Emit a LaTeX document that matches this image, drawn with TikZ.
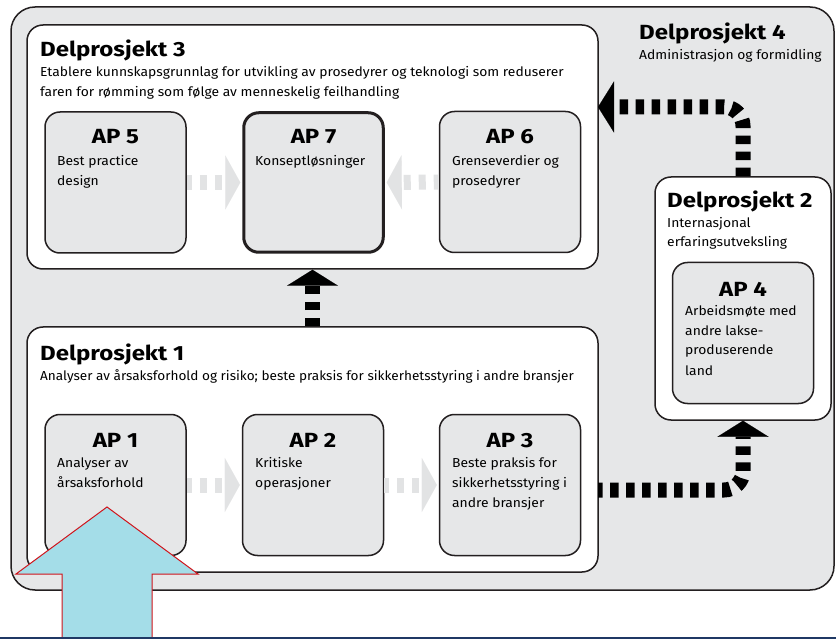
\documentclass[tikz,border=0pt]{standalone}
\usepackage{fontspec}
\setmainfont{Fira Sans}
\newfontfamily\bodyfam[FakeStretch=1.067]{Fira Sans}
\newfontfamily\bodyfamn[FakeStretch=1.045]{Fira Sans}
\newfontfamily\headfam[FakeStretch=1.17]{Fira Sans}
\usetikzlibrary{arrows.meta}
\definecolor{bggrey}{HTML}{E6E7E8}
\definecolor{edge}{HTML}{231F20}
\definecolor{faintc}{HTML}{E2E3E4}
\definecolor{bluefill}{HTML}{A4DDE8}
\definecolor{redline}{HTML}{D0141B}
\definecolor{navy}{HTML}{1F3864}
\newcommand{\hfnt}{\headfam\bfseries\fontsize{20.5}{24}\selectfont}
\newcommand{\bfnt}{\bodyfam\fontsize{13}{16}\selectfont}
\newcommand{\bfntn}{\bodyfamn\fontsize{13}{16}\selectfont}
\tikzset{
  outerbox/.style={draw=edge, line width=1.5pt, fill=bggrey, rounded corners=24pt, rectangle, inner sep=0},
  dpbox/.style={draw=edge, line width=1.5pt, fill=white, rounded corners=16pt, rectangle, inner sep=0},
  apbox/.style={draw=edge, line width=1.5pt, fill=bggrey, rounded corners=15pt, rectangle, inner sep=0, minimum width=141pt, minimum height=141pt},
  hd/.style={anchor=base west, inner sep=0, font=\hfnt},
  aptitle/.style={anchor=base, inner sep=0, font=\hfnt},
  tx/.style={anchor=base west, inner sep=0, font=\bfnt},
  faintarr/.style={draw=faintc, line width=15pt, dash pattern=on 7pt off 8pt,
    -{Triangle[width=54pt,length=15pt,line width=0.1pt]}, shorten >=2pt},
  blackarr/.style={draw=black, line width=15pt, dash pattern=on 8.5pt off 7.5pt,
    -{Triangle[width=51pt,length=16pt,line width=0.1pt]}, rounded corners=19pt}
}
\begin{document}
\begin{tikzpicture}[x=1pt,y=-1pt]
\useasboundingbox (0,0) rectangle (836,639);
% outer grey area (Delprosjekt 4)
\node[outerbox, minimum width=823pt, minimum height=583pt] (d4) at (422.5,298.5) {};
% Delprosjekt boxes
\node[dpbox, minimum width=571pt, minimum height=244pt] (d3) at (312.5,147) {};
\node[dpbox, minimum width=571pt, minimum height=245pt] (d1) at (312.5,449.5) {};
\node[dpbox, minimum width=176pt, minimum height=243pt] (d2) at (743,298.5) {};
% AP boxes
\node[apbox] (ap5) at (115.5,182.5) {};
\node[apbox, line width=3pt, minimum width=139.5pt, minimum height=139.5pt] (ap7) at (313.5,182.5) {};
\node[apbox] (ap6) at (510,182) {};
\node[apbox] (ap1) at (115.5,485) {};
\node[apbox] (ap2) at (313,485) {};
\node[apbox] (ap3) at (510,485) {};
\node[apbox] (ap4) at (743,333) {};
% faint arrows
\draw[faintarr, dash phase=2pt] (ap5.east) -- (ap7.west);
\draw[faintarr, dash phase=2pt] (ap6.west) -- (ap7.east);
\draw[faintarr, dash phase=2pt] (ap1.east) -- (ap2.west);
\draw[faintarr, dash phase=2pt] (ap2.east) -- (ap3.west);
% black dashed arrows
\coordinate (a2s) at (598,490);
\coordinate (a3e) at (598,107);
\draw[blackarr] (d1.north) -- (d3.south);
\draw[blackarr, dash phase=4pt] (a2s) -| (d2.south);
\draw[blackarr] (d2.north) |- (a3e);
% texts
\node[hd] (t3) at (40,57) {Delprosjekt 3};
\node[tx] (t3a) at (40,77) {Etablere kunnskapsgrunnlag for utvikling av prosedyrer og teknologi som reduserer};
\node[tx] (t3b) at (40,97) {faren for rømming som følge av menneskelig feilhandling};
\node[aptitle] (t5) at (115.5,144) {AP 5};
\node[tx] (t5a) at (57,166) {Best practice};
\node[tx] (t5b) at (57,186) {design};
\node[aptitle] (t7) at (313.5,144) {AP 7};
\node[tx] (t7a) at (255,166) {Konseptløsninger};
\node[aptitle] (t6) at (510,144) {AP 6};
\node[tx] (t6a) at (452,166) {Grenseverdier og};
\node[tx] (t6b) at (452,186) {prosedyrer};
\node[hd] (t4) at (639,40) {Delprosjekt 4};
\node[tx] (t4a) at (639,60) {Administrasjon og formidling};
\node[hd] (t2) at (667,208) {Delprosjekt 2};
\node[tx] (t2a) at (667,228) {Internasjonal};
\node[tx] (t2b) at (667,247) {erfaringsutveksling};
\node[aptitle] (tap4) at (743,297) {AP 4};
\node[tx] (t4b) at (685,316) {Arbeidsmøte med};
\node[tx] (t4c) at (685,336) {andre lakse-};
\node[tx] (t4d) at (685,355) {produserende};
\node[tx] (t4e) at (685,375) {land};
\node[hd] (t1) at (40,360) {Delprosjekt 1};
\node[tx, font=\bfntn] (t1a) at (40,380) {Analyser av årsaksforhold og risiko; beste praksis for sikkerhetsstyring i andre bransjer};
\node[aptitle] (tap1) at (115.5,447) {AP 1};
\node[tx] (tap1a) at (57,467) {Analyser av};
\node[tx] (tap1b) at (57,487) {årsaksforhold};
\node[aptitle] (tap2) at (313,447) {AP 2};
\node[tx] (tap2a) at (255,467) {Kritiske};
\node[tx] (tap2b) at (255,487) {operasjoner};
\node[aptitle] (tap3) at (510,447) {AP 3};
\node[tx] (tap3a) at (452,467) {Beste praksis for};
\node[tx] (tap3b) at (452,487) {sikkerhetsstyring i};
\node[tx] (tap3c) at (452,507) {andre bransjer};
% big blue arrow
\draw[draw=redline, line width=1pt, fill=bluefill, line join=miter]
  (107,507) -- (198,574) -- (152,574) -- (152,642) -- (62,642) -- (62,574) -- (16,574) -- cycle;
% bottom navy line
\draw[navy, line width=2.5pt] (0,638) -- (836,638);
\end{tikzpicture}
\end{document}
